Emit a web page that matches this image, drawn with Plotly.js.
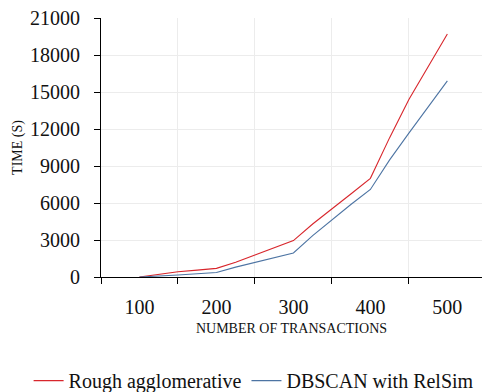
<!DOCTYPE html>
<html>
<head>
<meta charset="utf-8">
<script src="https://cdn.plot.ly/plotly-3.0.1.min.js"></script>
<style>html,body{margin:0;padding:0;background:#fff}#chart{width:483px;height:392px}</style>
</head>
<body>
<div id="chart"></div>
<script>
// Data
var transactions = [100, 125, 150, 175, 200, 225, 250, 275, 300, 325, 350, 375, 400, 425, 450, 475, 500];
var roughAgglomerative = [0, 220, 420, 560, 700, 1200, 1800, 2350, 2950, 4300, 5500, 6750, 8000, 11300, 14400, 17100, 19700];
var dbscanRelSim = [0, 60, 160, 260, 370, 800, 1180, 1550, 1950, 3350, 4640, 5900, 7100, 9500, 11670, 13800, 15900];
var xTickVals = [100, 200, 300, 400, 500];
var xTickText = ['100', '200', '300', '400', '500'];
var xBoundaryVals = [50, 150, 250, 350, 450];
var yTickVals = [0, 3000, 6000, 9000, 12000, 15000, 18000, 21000];
var yTickText = ['0', '3000', '6000', '9000', '12000', '15000', '18000', '21000'];
var seriesNames = ['Rough agglomerative', 'DBSCAN with RelSim'];

var FONT = 'Liberation Serif, Times New Roman, serif';
var xRange = [50, 545];

var traces = [
  {x: transactions, y: roughAgglomerative, name: seriesNames[0], type: 'scatter', mode: 'lines',
   line: {color: '#d8262c', width: 1.1}},
  {x: transactions, y: dbscanRelSim, name: seriesNames[1], type: 'scatter', mode: 'lines',
   line: {color: '#4d74a3', width: 1.1}},
  {x: [xRange[0]], y: [0], xaxis: 'x2', type: 'scatter', mode: 'markers', showlegend: false,
   hoverinfo: 'skip', marker: {opacity: 0}}
];

var layout = {
  width: 483, height: 392,
  margin: {l: 101, r: 1, t: 18, b: 115, autoexpand: false},
  paper_bgcolor: '#fff', plot_bgcolor: '#fff',
  font: {family: FONT, color: '#111', size: 20},
  showlegend: true,
  legend: {orientation: 'h', x: -0.19, xanchor: 'left', y: -0.40, yanchor: 'middle',
           font: {family: FONT, size: 20, color: '#111'}, itemwidth: 30, tracegroupgap: 0},
  xaxis: {
    range: xRange, tickmode: 'array', tickvals: xTickVals, ticktext: xTickText, automargin: false,
    showgrid: false, zeroline: false, showline: true, linecolor: '#000', linewidth: 1,
    ticks: 'outside', ticklen: 12, tickcolor: 'rgba(0,0,0,0)',
    tickfont: {family: FONT, size: 20, color: '#111'},
    title: {text: 'NUMBER OF TRANSACTIONS', font: {family: FONT, size: 14, color: '#111'}, standoff: 6}
  },
  xaxis2: {
    overlaying: 'x', range: xRange, tickmode: 'array', tickvals: xBoundaryVals, automargin: false,
    showticklabels: false, ticks: 'outside', ticklen: 6, tickcolor: '#000', tickwidth: 1,
    showgrid: true, gridcolor: '#ececec', gridwidth: 1, zeroline: false, showline: false,
    side: 'bottom'
  },
  yaxis: {
    range: [0, 21000], tickmode: 'array', tickvals: yTickVals, ticktext: yTickText, automargin: false,
    showgrid: true, gridcolor: '#ececec', gridwidth: 1, zeroline: false,
    showline: true, linecolor: '#000', linewidth: 1,
    ticks: 'outside', ticklen: 6, tickcolor: '#000',
    ticklabelstandoff: 10,
    tickfont: {family: FONT, size: 20, color: '#111'},
    title: {text: 'TIME (S)', font: {family: FONT, size: 14, color: '#111'}, standoff: 4}
  }
};

Plotly.newPlot('chart', traces, layout, {displayModeBar: false, staticPlot: true});
</script>
</body>
</html>
